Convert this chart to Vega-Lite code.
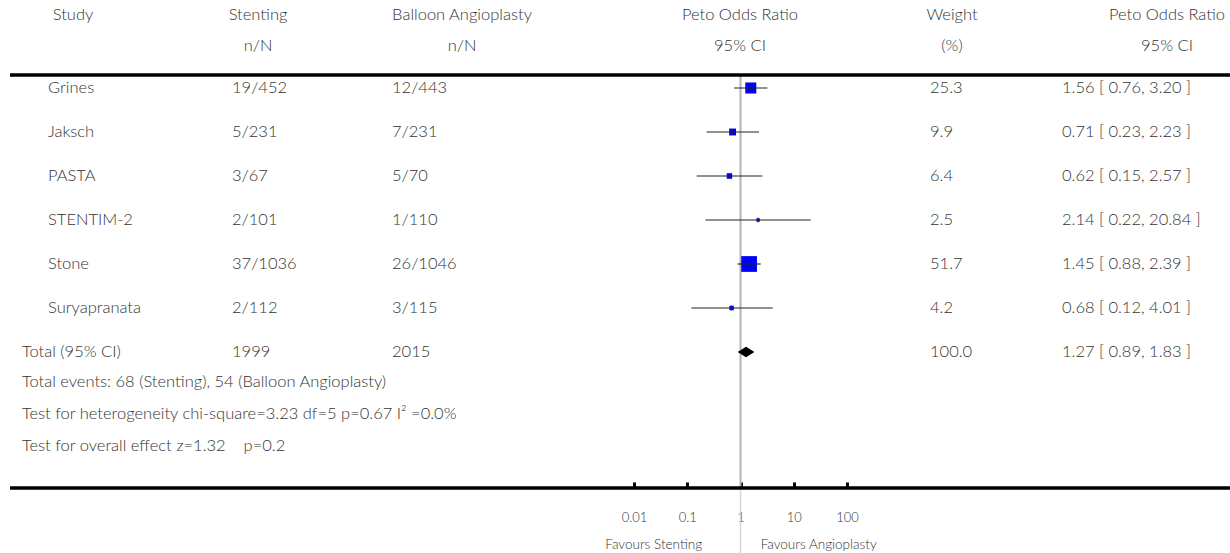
{
  "$schema": "https://vega.github.io/schema/vega-lite/v6.json",
  "width": 1230,
  "height": 553,
  "padding": 0,
  "autosize": {"type": "none"},
  "background": "white",
  "config": {"view": {"stroke": null}, "font": "Lato", "text": {"font": "Lato"}, "axis": {"labelFont": "Lato", "titleFont": "Lato"}},
  "datasets": {
    "headers": [
      {"line": -1, "col": 1, "text": "Study"},
      {"line": -1, "col": 2, "text": "Stenting"},
      {"line": -1, "col": 3, "text": "Balloon Angioplasty"},
      {"line": -1, "col": 4, "text": "Peto Odds Ratio"},
      {"line": -1, "col": 5, "text": "Weight"},
      {"line": -1, "col": 6, "text": "Peto Odds Ratio"},
      {"line": 0, "col": 2, "text": "n/N"},
      {"line": 0, "col": 3, "text": "n/N"},
      {"line": 0, "col": 4, "text": "95% CI"},
      {"line": 0, "col": 5, "text": "(%)"},
      {"line": 0, "col": 6, "text": "95% CI"}
    ],
    "cells": [
      {"line": 1, "col": 1, "text": "Grines"},
      {"line": 1, "col": 2, "text": "19/452"},
      {"line": 1, "col": 3, "text": "12/443"},
      {"line": 1, "col": 5, "text": "25.3"},
      {"line": 1, "col": 6, "text": "1.56 [ 0.76, 3.20 ]"},
      {"line": 2, "col": 1, "text": "Jaksch"},
      {"line": 2, "col": 2, "text": "5/231"},
      {"line": 2, "col": 3, "text": "7/231"},
      {"line": 2, "col": 5, "text": "9.9"},
      {"line": 2, "col": 6, "text": "0.71 [ 0.23, 2.23 ]"},
      {"line": 3, "col": 1, "text": "PASTA"},
      {"line": 3, "col": 2, "text": "3/67"},
      {"line": 3, "col": 3, "text": "5/70"},
      {"line": 3, "col": 5, "text": "6.4"},
      {"line": 3, "col": 6, "text": "0.62 [ 0.15, 2.57 ]"},
      {"line": 4, "col": 1, "text": "STENTIM-2"},
      {"line": 4, "col": 2, "text": "2/101"},
      {"line": 4, "col": 3, "text": "1/110"},
      {"line": 4, "col": 5, "text": "2.5"},
      {"line": 4, "col": 6, "text": "2.14 [ 0.22, 20.84 ]"},
      {"line": 5, "col": 1, "text": "Stone"},
      {"line": 5, "col": 2, "text": "37/1036"},
      {"line": 5, "col": 3, "text": "26/1046"},
      {"line": 5, "col": 5, "text": "51.7"},
      {"line": 5, "col": 6, "text": "1.45 [ 0.88, 2.39 ]"},
      {"line": 6, "col": 1, "text": "Suryapranata"},
      {"line": 6, "col": 2, "text": "2/112"},
      {"line": 6, "col": 3, "text": "3/115"},
      {"line": 6, "col": 5, "text": "4.2"},
      {"line": 6, "col": 6, "text": "0.68 [ 0.12, 4.01 ]"},
      {"line": 7, "col": 0, "text": "Total (95% CI)"},
      {"line": 7, "col": 2, "text": "1999"},
      {"line": 7, "col": 3, "text": "2015"},
      {"line": 7, "col": 5, "text": "100.0"},
      {"line": 7, "col": 6, "text": "1.27 [ 0.89, 1.83 ]"},
      {"line": 8, "col": 0, "text": "Total events: 68 (Stenting), 54 (Balloon Angioplasty)"},
      {"line": 9, "col": 0, "text": "Test for heterogeneity chi-square=3.23 df=5 p=0.67 I² =0.0%"},
      {"line": 10, "col": 0, "text": "Test for overall effect z=1.32\u00a0\u00a0\u00a0 p=0.2"}
    ],
    "studies": [
      {"line": 1, "study": "Grines", "or": 1.56, "lo": 0.76, "hi": 3.20, "weight": 25.3},
      {"line": 2, "study": "Jaksch", "or": 0.71, "lo": 0.23, "hi": 2.23, "weight": 9.9},
      {"line": 3, "study": "PASTA", "or": 0.62, "lo": 0.15, "hi": 2.57, "weight": 6.4},
      {"line": 4, "study": "STENTIM-2", "or": 2.14, "lo": 0.22, "hi": 20.84, "weight": 2.5},
      {"line": 5, "study": "Stone", "or": 1.45, "lo": 0.88, "hi": 2.39, "weight": 51.7},
      {"line": 6, "study": "Suryapranata", "or": 0.68, "lo": 0.12, "hi": 4.01, "weight": 4.2}
    ],
    "total": [
      {"line": 7, "study": "Total (95% CI)", "or": 1.27, "lo": 0.89, "hi": 1.83, "weight": 100}
    ]
  },
  "resolve": {"scale": {"x": "independent"}},
  "layer": [
    {
      "data": {"values": [{}]},
      "layer": [
        {
          "mark": {"type": "rule", "stroke": "#b3b3b3", "strokeWidth": 2},
          "encoding": {
            "x": {"datum": 1, "type": "quantitative",
              "scale": {"type": "log", "domain": [0.01, 100], "range": [634, 847], "nice": false},
              "axis": {"orient": "top", "offset": -488, "values": [0.01, 0.1, 1, 10, 100], "ticks": true, "tickSize": 6, "tickWidth": 3, "tickColor": "black", "labels": false, "domain": false, "grid": false, "title": null}},
            "y": {"datum": 0.5, "type": "quantitative",
              "scale": {"type": "linear", "domain": [-1, 0, 0.5, 1, 7, 8, 10, 11, 13], "range": [15, 46, 75, 88, 352, 382, 446, 488, 553], "nice": false, "zero": false}, "axis": null},
            "y2": {"datum": 11}
          }
        },
        {
          "mark": {"type": "rule", "stroke": "#d6d6d6", "strokeWidth": 1.5},
          "encoding": {
            "x": {"datum": 1, "type": "quantitative", "scale": {"type": "log", "domain": [0.01, 100], "range": [634, 847], "nice": false}},
            "y": {"datum": 11, "type": "quantitative",
              "scale": {"type": "linear", "domain": [-1, 0, 0.5, 1, 7, 8, 10, 11, 13], "range": [15, 46, 75, 88, 352, 382, 446, 488, 553], "nice": false, "zero": false}, "axis": null},
            "y2": {"datum": 13}
          }
        }
      ]
    },
    {
      "data": {"name": "headers"},
      "mark": {"type": "text", "align": "center", "baseline": "middle", "font": "Lato", "fontSize": 16.5, "fontWeight": 300, "color": "#333"},
      "encoding": {
        "x": {"field": "col", "type": "quantitative",
          "scale": {"type": "linear", "domain": [0, 1, 2, 3, 4, 5, 6, 7], "range": [10, 73, 258, 462, 740, 952, 1167, 1230], "nice": false, "zero": false}, "axis": null},
        "y": {"field": "line", "type": "quantitative",
          "scale": {"type": "linear", "domain": [-1, 0, 0.5, 1, 7, 8, 10, 11, 13], "range": [15, 46, 75, 88, 352, 382, 446, 488, 553], "nice": false, "zero": false}, "axis": null},
        "text": {"field": "text", "type": "nominal"}
      }
    },
    {
      "layer": [
        {
          "data": {"name": "cells"},
          "mark": {"type": "text", "align": "left", "baseline": "middle", "font": "Lato", "fontSize": 16.5, "fontWeight": 300, "color": "#333"},
          "encoding": {
            "x": {"field": "col", "type": "quantitative",
              "scale": {"type": "linear", "domain": [-1, 0, 1, 2, 3, 5, 6, 7], "range": [10, 22, 48, 232, 392, 930, 1062, 1230], "nice": false, "zero": false}, "axis": null},
            "y": {"field": "line", "type": "quantitative",
              "scale": {"type": "linear", "domain": [-1, 0, 0.5, 1, 7, 8, 10, 11, 13], "range": [15, 46, 75, 88, 352, 382, 446, 488, 553], "nice": false, "zero": false}, "axis": null},
            "text": {"field": "text", "type": "nominal"}
          }
        },
        {
          "data": {"values": [{"sep": "header"}, {"sep": "axis"}]},
          "mark": {"type": "rule", "stroke": "black", "strokeWidth": 3.5},
          "encoding": {
            "x": {"datum": -1, "type": "quantitative"},
            "x2": {"datum": 7},
            "y": {"field": "sep", "type": "nominal", "scale": {"type": "point", "domain": ["header", "axis"], "range": [75, 488], "padding": 0}, "axis": null}
          }
        }
      ]
    },
    {
      "layer": [
        {
          "data": {"name": "studies"},
          "mark": {"type": "point", "shape": "square", "filled": true, "color": "#0000ff", "opacity": 1, "strokeWidth": 0},
          "encoding": {
            "x": {"field": "or", "type": "quantitative",
              "scale": {"type": "log", "domain": [0.01, 100], "range": [634, 847], "nice": false},
              "axis": {"orient": "bottom", "offset": -65, "values": [0.01, 0.1, 1, 10, 100], "format": "~g", "labelFlush": false, "ticks": false, "domain": false, "grid": false, "labelPadding": 23, "labelFontSize": 13, "labelFontWeight": 300, "labelColor": "#333", "title": "\u00a0\u00a0\u00a0\u00a0\u00a0\u00a0\u00a0\u00a0\u00a0Favours Stenting\u00a0\u00a0\u00a0\u00a0\u00a0\u00a0\u00a0\u00a0\u00a0\u00a0\u00a0\u00a0\u00a0\u00a0\u00a0\u00a0Favours Angioplasty", "titleFontSize": 13.5, "titleFontWeight": 300, "titleColor": "#333", "titlePadding": 13}},
            "y": {"field": "line", "type": "quantitative",
              "scale": {"type": "linear", "domain": [-1, 0, 0.5, 1, 7, 8, 10, 11, 13], "range": [15, 46, 75, 88, 352, 382, 446, 488, 553], "nice": false, "zero": false}, "axis": null},
            "size": {"field": "weight", "type": "quantitative", "scale": {"domain": [0, 100], "range": [0, 480]}, "legend": null}
          }
        },
        {
          "data": {"name": "studies"},
          "mark": {"type": "rule", "stroke": "#222", "strokeWidth": 1.2},
          "encoding": {
            "x": {"field": "lo", "type": "quantitative"},
            "x2": {"field": "hi"},
            "y": {"field": "line", "type": "quantitative"}
          }
        },
        {
          "data": {"name": "studies"},
          "mark": {"type": "tick", "orient": "vertical", "size": 5, "thickness": 1, "color": "#222"},
          "encoding": {
            "x": {"field": "or", "type": "quantitative"},
            "y": {"field": "line", "type": "quantitative"}
          }
        },
        {
          "data": {"name": "total"},
          "mark": {"type": "point", "shape": "M-1,0L0,-0.62L1,0L0,0.62Z", "filled": true, "color": "black", "opacity": 1, "size": 280, "strokeWidth": 0},
          "encoding": {
            "x": {"field": "or", "type": "quantitative"},
            "y": {"field": "line", "type": "quantitative"}
          }
        }
      ]
    }
  ]
}
